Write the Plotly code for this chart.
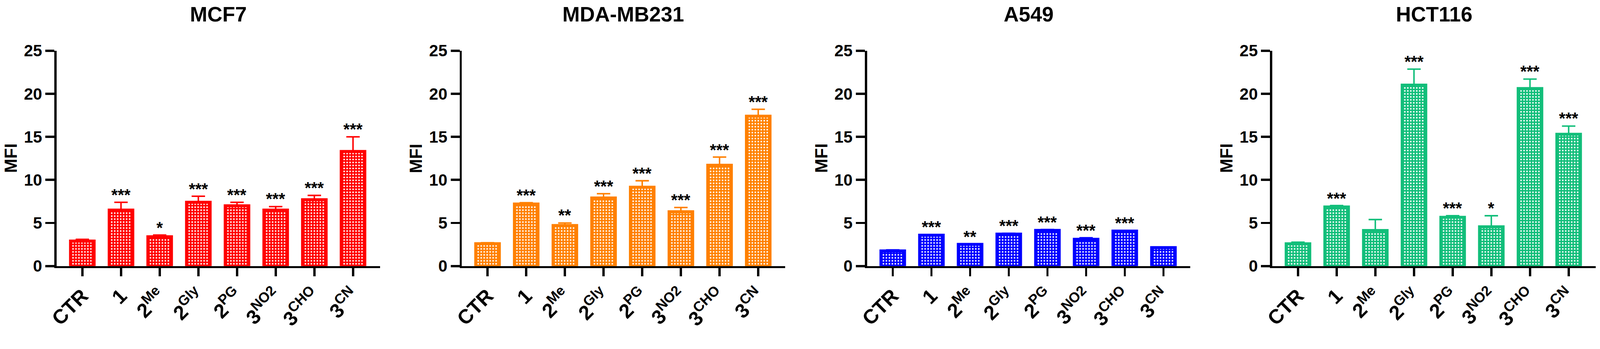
import plotly.graph_objects as go

# cell lines and compounds
panels = ["MCF7", "MDA-MB231", "A549", "HCT116"]
colors = ["#FF0000", "#FF8000", "#0000FF", "#12BE7A"]
categories = ["CTR", "1", "2Me", "2Gly", "2PG", "3NO2", "3CHO", "3CN"]
tick_labels = ["CTR", "1", "2<sup>Me</sup>", "2<sup>Gly</sup>", "2<sup>PG</sup>",
               "3<sup>NO2</sup>", "3<sup>CHO</sup>", "3<sup>CN</sup>"]

# mean MFI and top of error bar (mean + SD)
mcf7_mean = [2.9, 6.5, 3.4, 7.4, 7.0, 6.5, 7.7, 13.3]
mcf7_top = [3.1, 7.4, 3.6, 8.1, 7.4, 6.9, 8.2, 15.0]
mda_mean = [2.6, 7.2, 4.7, 7.9, 9.15, 6.3, 11.7, 17.4]
mda_top = [2.7, 7.35, 5.0, 8.4, 9.9, 6.8, 12.65, 18.2]
a549_mean = [1.75, 3.58, 2.52, 3.71, 4.14, 3.1, 4.06, 2.14]
a549_top = [1.88, 3.67, 2.57, 3.8, 4.23, 3.28, 4.12, 2.22]
hct_mean = [2.58, 6.86, 4.13, 21.0, 5.66, 4.56, 20.6, 15.3]
hct_top = [2.77, 7.02, 5.4, 22.86, 5.84, 5.84, 21.7, 16.25]

# significance vs CTR
mcf7_stars = ["", "***", "*", "***", "***", "***", "***", "***"]
mda_stars = ["", "***", "**", "***", "***", "***", "***", "***"]
a549_stars = ["", "***", "**", "***", "***", "***", "***", ""]
hct_stars = ["", "***", "", "***", "***", "*", "***", "***"]

means = [mcf7_mean, mda_mean, a549_mean, hct_mean]
tops = [mcf7_top, mda_top, a549_top, hct_top]
stars = [mcf7_stars, mda_stars, a549_stars, hct_stars]

W, H = 4296, 893
font = "Arial, Liberation Sans, sans-serif"

fig = go.Figure()
annotations = []
layout = {}

for k, name in enumerate(panels):
    sfx = "" if k == 0 else str(k + 1)
    xa, ya = "x" + sfx, "y" + sfx
    col = colors[k]
    left = 152 + 1088 * k
    right = left + 868

    fig.add_trace(go.Bar(
        x=categories, y=means[k], xaxis=xa, yaxis=ya,
        width=0.61,
        marker=dict(color=col, line=dict(color=col, width=8),
                    pattern=dict(shape=".", fgcolor="white", bgcolor=col,
                                 fillmode="replace", size=8, solidity=0.25)),
        error_y=dict(type="data", symmetric=False,
                     array=[t - m for t, m in zip(tops[k], means[k])],
                     arrayminus=[0] * len(categories),
                     color=col, thickness=4, width=18),
        showlegend=False, hoverinfo="skip",
    ))

    layout["xaxis" + sfx] = dict(
        domain=[left / W, right / W], anchor=ya, automargin=False,
        range=[-0.665, 7.695], type="category",
        tickvals=categories, ticktext=tick_labels, tickangle=-45,
        tickfont=dict(family=font, size=54, color="black", weight="bold"),
        showline=True, linewidth=6, linecolor="black",
        ticks="outside", ticklen=21, tickwidth=6, tickcolor="black",
        showgrid=False, zeroline=False, fixedrange=True,
    )
    layout["yaxis" + sfx] = dict(
        domain=[0, 1], anchor=xa, range=[0, 25], dtick=5, automargin=False,
        tickfont=dict(family=font, size=44, color="black", weight="bold"),
        showline=True, linewidth=6, linecolor="black",
        ticks="outside", ticklen=24, tickwidth=6, tickcolor="black",
        showgrid=False, zeroline=False, fixedrange=True,
    )

    # panel title
    annotations.append(dict(
        text=name, xref=xa + " domain", yref="paper", x=0.5, y=1,
        yshift=98, xanchor="center", yanchor="middle", showarrow=False,
        font=dict(family=font, size=56, color="black", weight="bold"),
    ))
    # y axis title
    annotations.append(dict(
        text="MFI", xref=xa + " domain", yref=ya + " domain", x=0, y=0.5,
        xshift=-123, xanchor="center", yanchor="middle", textangle=-90,
        showarrow=False,
        font=dict(family=font, size=46, color="black", weight="bold"),
    ))
    # significance stars above the error bars
    for c, t, s in zip(categories, tops[k], stars[k]):
        if s:
            annotations.append(dict(
                text=s, xref=xa, yref=ya, x=c, y=t, yanchor="bottom",
                xanchor="center", yshift=-6, showarrow=False,
                font=dict(family=font, size=44, color="black", weight="bold"),
            ))

fig.update_layout(
    width=W, height=H,
    margin=dict(l=0, r=0, t=136, b=179, autoexpand=False),
    plot_bgcolor="white", paper_bgcolor="white",
    annotations=annotations,
    **layout,
)

# fit the fixed-size figure into whatever viewport the page gets
fit_js = """
var gd = document.getElementById('{plot_id}');
document.body.style.margin = '0';
document.body.style.overflow = 'hidden';
document.documentElement.style.overflow = 'hidden';
var s = Math.min(window.innerWidth / %d, window.innerHeight / %d);
gd.style.transformOrigin = '0 0';
gd.style.transform = 'scale(' + s + ')';
""" % (W, H)

fig.write_html("out.html", post_script=fit_js,
               config={"displayModeBar": False, "staticPlot": True})
